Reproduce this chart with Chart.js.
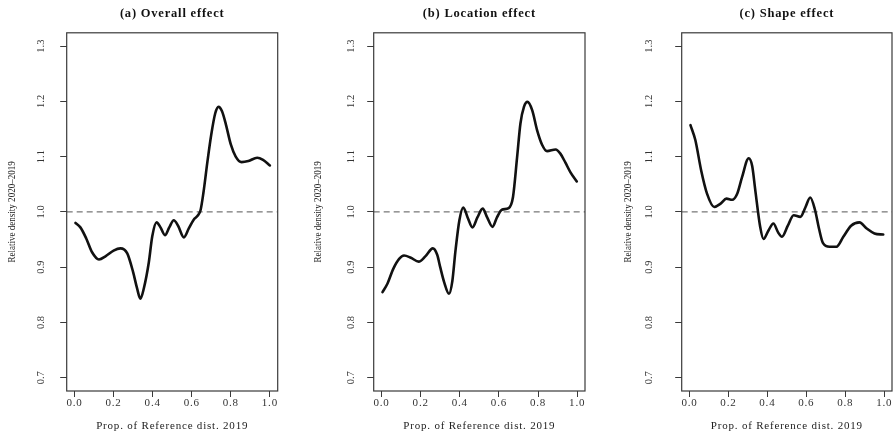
<!DOCTYPE html>
<html><head><meta charset="utf-8">
<script src="https://cdn.jsdelivr.net/npm/chart.js@4/dist/chart.umd.min.js"></script>
<style>
body{margin:0;background:#fff;width:896px;height:436px;overflow:hidden;position:relative}
canvas{position:absolute;top:0}
</style></head><body>
<canvas id="c0" width="298" height="436" style="left:0px"></canvas>
<canvas id="c1" width="298" height="436" style="left:298px"></canvas>
<canvas id="c2" width="300" height="436" style="left:596px"></canvas>
<script>
// ---- data ----
const panelTitles = ["(a) Overall effect", "(b) Location effect", "(c) Shape effect"];
const xAxisTitle = "Prop. of Reference dist. 2019";
const yAxisTitle = "Relative density 2020\u20132019";
const xTicks = [0.0, 0.2, 0.4, 0.6, 0.8, 1.0];
const yTicks = [0.7, 0.8, 0.9, 1.0, 1.1, 1.2, 1.3];
const refLevel = 1.0;

const overallX = [0.005,0.03,0.06,0.09,0.125,0.16,0.2,0.235,0.27,0.3,0.32,0.337,0.355,0.38,0.398,0.42,0.44,0.463,0.485,0.508,0.53,0.56,0.585,0.61,0.63,0.645,0.66,0.68,0.70,0.72,0.737,0.755,0.775,0.80,0.825,0.855,0.89,0.935,0.965,1.0];
const overallY = [0.980,0.972,0.952,0.927,0.914,0.920,0.930,0.934,0.925,0.891,0.862,0.843,0.862,0.908,0.956,0.981,0.972,0.958,0.972,0.985,0.975,0.954,0.970,0.986,0.993,1.003,1.035,1.090,1.140,1.178,1.190,1.182,1.158,1.122,1.100,1.090,1.092,1.098,1.094,1.084];

const locationX = [0.005,0.03,0.06,0.09,0.115,0.15,0.19,0.225,0.262,0.285,0.30,0.32,0.345,0.362,0.378,0.398,0.418,0.44,0.465,0.49,0.517,0.54,0.567,0.59,0.615,0.65,0.672,0.693,0.71,0.728,0.746,0.77,0.795,0.82,0.846,0.89,0.915,0.94,0.965,0.998];
const locationY = [0.855,0.870,0.897,0.915,0.921,0.917,0.910,0.920,0.934,0.922,0.900,0.873,0.852,0.875,0.930,0.985,1.008,0.990,0.972,0.990,1.006,0.990,0.973,0.990,1.004,1.007,1.027,1.099,1.160,1.190,1.199,1.184,1.148,1.122,1.110,1.113,1.105,1.089,1.072,1.055];

const shapeX = [0.005,0.03,0.06,0.09,0.127,0.16,0.19,0.219,0.245,0.27,0.304,0.322,0.338,0.363,0.38,0.405,0.431,0.455,0.475,0.505,0.535,0.569,0.595,0.62,0.645,0.665,0.685,0.72,0.755,0.79,0.83,0.873,0.91,0.95,0.995];
const shapeY = [1.157,1.130,1.075,1.033,1.009,1.015,1.024,1.022,1.033,1.063,1.097,1.083,1.039,0.973,0.951,0.966,0.979,0.963,0.955,0.975,0.994,0.991,1.008,1.026,1.003,0.970,0.944,0.937,0.937,0.955,0.975,0.981,0.970,0.961,0.959];

// ---- layout / style (not data) ----
const X_MIN = -0.04, X_MAX = 1.04, Y_MIN = 0.676, Y_MAX = 1.324;
const panels = [
  {xs: overallX,  ys: overallY,  yWidth: 66.7, padRight: 20.3, tickOff: 25, titleX: 12.5},
  {xs: locationX, ys: locationY, yWidth: 75.7, padRight: 11,   tickOff: 22, titleX: 20.3},
  {xs: shapeX,    ys: shapeY,    yWidth: 85.7, padRight: 4,    tickOff: 32, titleX: 31.7}
];
const SERIF = "'Liberation Serif', 'Times New Roman', serif";
const AXIS_COL = '#3a3a3a';

panels.forEach((p, idx) => {
  const framePlugin = {
    id: 'frame' + idx,
    beforeDraw(chart) { chart.ctx.letterSpacing = '0.8px'; },
    afterDraw(chart) {
      const ctx = chart.ctx, a = chart.chartArea, ys = chart.scales.y;
      ctx.save();
      ctx.letterSpacing = '0px';
      ctx.strokeStyle = AXIS_COL;
      ctx.lineWidth = 1.2;
      ctx.strokeRect(a.left, a.top, a.right - a.left, a.bottom - a.top);
      // rotated y tick labels
      ctx.fillStyle = '#333';
      ctx.font = '10.5px ' + SERIF;
      ctx.textAlign = 'center';
      ctx.textBaseline = 'middle';
      yTicks.forEach(v => {
        const py = ys.getPixelForValue(v);
        ctx.save();
        ctx.translate(a.left - p.tickOff, py);
        ctx.rotate(-Math.PI / 2);
        ctx.fillText(v.toFixed(1), 0, 0);
        ctx.restore();
      });
      // rotated, condensed y axis title
      ctx.save();
      ctx.translate(p.titleX, (a.top + a.bottom) / 2);
      ctx.rotate(-Math.PI / 2);
      ctx.scale(0.82, 1);
      ctx.font = '11px ' + SERIF;
      ctx.fillStyle = '#222';
      ctx.fillText(yAxisTitle, 0, 0);
      ctx.restore();
      ctx.restore();
    }
  };

  new Chart(document.getElementById('c' + idx), {
    type: 'line',
    data: {
      datasets: [
        {
          data: p.xs.map((x, i) => ({x: x, y: p.ys[i]})),
          borderColor: '#111', borderWidth: 2.6, pointRadius: 0,
          cubicInterpolationMode: 'monotone', fill: false,
          borderCapStyle: 'round', borderJoinStyle: 'round'
        },
        {
          data: [{x: X_MIN, y: refLevel}, {x: X_MAX, y: refLevel}],
          borderColor: '#555', borderWidth: 1, borderDash: [6, 4],
          pointRadius: 0, fill: false
        }
      ]
    },
    options: {
      responsive: false, animation: false, devicePixelRatio: 1,
      layout: {padding: {left: 0, right: p.padRight, top: 0, bottom: 0}},
      plugins: {
        legend: {display: false}, tooltip: {enabled: false},
        title: {
          display: true, text: panelTitles[idx], fullSize: false,
          color: '#111', font: {family: SERIF, size: 12.5, weight: 'bold', lineHeight: 1.2},
          padding: {top: 6.1, bottom: 11.7}
        }
      },
      scales: {
        x: {
          type: 'linear', min: X_MIN, max: X_MAX,
          afterBuildTicks: s => { s.ticks = xTicks.map(v => ({value: v})); },
          afterFit: s => { s.height = 45; },
          ticks: {
            autoSkip: false, maxRotation: 0, padding: 0, color: '#333',
            font: {family: SERIF, size: 11, lineHeight: 1.2},
            callback: v => Number(v).toFixed(1)
          },
          grid: {drawOnChartArea: false, drawTicks: true, tickLength: 6, color: AXIS_COL, lineWidth: 1},
          border: {display: false},
          title: {
            display: true, text: xAxisTitle, color: '#222',
            font: {family: SERIF, size: 11, lineHeight: 1.2},
            padding: {top: 0, bottom: 3.4}
          }
        },
        y: {
          type: 'linear', min: Y_MIN, max: Y_MAX,
          afterBuildTicks: s => { s.ticks = yTicks.map(v => ({value: v})); },
          afterFit: s => { s.width = p.yWidth; },
          ticks: {display: false},
          grid: {drawOnChartArea: false, drawTicks: true, tickLength: 6.5, color: AXIS_COL, lineWidth: 1},
          border: {display: false}
        }
      }
    },
    plugins: [framePlugin]
  });
});
</script>
</body></html>
